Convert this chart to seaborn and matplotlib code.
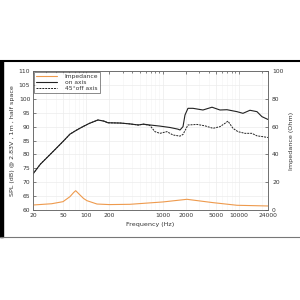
import numpy as np
import pandas as pd
import matplotlib
matplotlib.use('Agg')
import matplotlib.pyplot as plt
from matplotlib.lines import Line2D
from matplotlib.patches import Rectangle
import seaborn as sns

# on-axis response
freq_on = [20, 25, 33, 40, 50, 61, 75, 90, 110, 142, 170, 192, 280, 370, 480, 560, 683,
           923, 1250, 1589, 1690, 1850, 1965, 2150, 2500, 3380, 4440, 5650, 6980,
           9440, 11300, 13960, 17250, 20050, 24000]
spl_on = [73.0, 76.5, 79.8, 82.1, 84.8, 87.3, 88.8, 90.0, 91.2, 92.4, 92.0, 91.4, 91.3,
          91.0, 90.6, 90.9, 90.6, 90.2, 89.7, 89.1, 88.8, 90.0, 94.2, 96.6, 96.6,
          96.0, 97.0, 96.0, 96.1, 95.4, 94.8, 95.9, 95.4, 93.6, 92.6]

# 45 deg off-axis response
freq_off = [20, 25, 33, 40, 50, 61, 75, 90, 110, 142, 170, 192, 280, 370, 480, 560, 683,
            794, 923, 1140, 1368, 1690, 1850, 2150, 2820, 3590, 4580, 5650, 6570,
            7190, 8360, 9720, 12000, 14800, 17250, 20600, 24000]
spl_off = [73.0, 76.5, 79.8, 82.1, 84.8, 87.3, 88.8, 90.0, 91.2, 92.4, 92.0, 91.4, 91.3,
           91.0, 90.6, 90.9, 90.4, 88.2, 87.6, 88.2, 87.0, 86.6, 87.2, 90.6, 90.8,
           90.3, 89.4, 90.0, 91.2, 92.0, 89.4, 88.2, 87.6, 87.6, 86.7, 86.4, 86.1]

# impedance
freq_imp = [20, 35, 49.5, 61, 68, 72.5, 77, 82.6, 92, 102, 138, 200, 373, 1011, 2085,
            4580, 9440, 24000]
imp = [3.6, 4.5, 6.0, 9.6, 12.5, 13.9, 12.5, 10.8, 8.3, 6.7, 4.3, 3.9, 4.1, 5.8, 7.7,
       5.3, 3.4, 2.9]

xticks = [20, 50, 100, 200, 1000, 2000, 5000, 10000, 24000]

df_on = pd.DataFrame({'f': freq_on, 'spl': spl_on})
df_off = pd.DataFrame({'f': freq_off, 'spl': spl_off})
df_imp = pd.DataFrame({'f': freq_imp, 'z': imp})

sns.set_style('white')
plt.rcParams['font.family'] = ['Liberation Sans Narrow', 'DejaVu Sans']
plt.rcParams['font.size'] = 4.3
plt.rcParams['text.color'] = '#333333'

fig = plt.figure(figsize=(3, 3), dpi=100)
ax = fig.add_axes([0.11, 0.30, 0.783, 0.463])
ax.set_xscale('log')

orange = '#EE9A4D'
sns.lineplot(data=df_on, x='f', y='spl', ax=ax, color='#222222', lw=0.8, estimator=None)
sns.lineplot(data=df_off, x='f', y='spl', ax=ax, color='#222222', lw=0.7,
             linestyle=(0, (2, 1)), estimator=None)

ax.set_xlim(20, 24000)
ax.set_ylim(60, 110)
ax.set_yticks(np.arange(60, 111, 5))
ax.set_xticks(xticks)
ax.set_xticklabels([str(t) for t in xticks])
ax.grid(True, which='major', color='#ececec', lw=0.5)
ax.grid(True, which='minor', axis='x', color='#f3f3f3', lw=0.4)
ax.tick_params(axis='both', which='both', direction='in', length=2, width=0.4,
               labelsize=4.3, pad=2, top=True, labelcolor='#333333')
ax.tick_params(axis='x', which='minor', length=1.2)
ax.set_xlabel('Frequency (Hz)', fontsize=4.6, labelpad=3, color='#333333')
ax.set_ylabel('SPL (dB) @ 2.83V , 1m , half space', fontsize=4.6, labelpad=3,
              color='#333333')

ax2 = ax.twinx()
sns.lineplot(data=df_imp, x='f', y='z', ax=ax2, color=orange, lw=0.8, estimator=None)
ax2.set_ylim(0, 100)
ax2.set_yticks([0, 20, 40, 60, 80, 100])
ax2.set_xlim(20, 24000)
ax2.tick_params(axis='y', direction='in', length=2, width=0.4, labelsize=4.3, pad=3,
                labelcolor='#333333')
ax2.set_ylabel('Impedance (Ohm)', fontsize=4.6, labelpad=4, color='#333333')
ax2.set_xlabel('')

for a in (ax, ax2):
    for s in a.spines.values():
        s.set_color('#666666')
        s.set_linewidth(0.5)

handles = [Line2D([], [], color=orange, lw=0.8),
           Line2D([], [], color='#222222', lw=0.8),
           Line2D([], [], color='#222222', lw=0.7, linestyle=(0, (2, 1)))]
leg = ax2.legend(handles, ['Impedance', 'on axis', '45°off axis'], loc='upper left',
                 fontsize=4.3, frameon=True, fancybox=False, borderpad=0.3,
                 labelspacing=0.15, handlelength=3.6, handletextpad=1.2,
                 borderaxespad=0.2)
leg.get_frame().set_edgecolor('#333333')
leg.get_frame().set_linewidth(0.5)

# screenshot frame
fig.add_artist(Line2D([0, 1], [0.797, 0.797], color='black', lw=1.5,
                      transform=fig.transFigure))
fig.add_artist(Rectangle((0, 0.21), 0.01, 0.587, color='black',
                         transform=fig.transFigure))
fig.add_artist(Line2D([0, 1], [0.21, 0.21], color='#777777', lw=0.8,
                      transform=fig.transFigure))

fig.savefig('out.png', dpi=100)
